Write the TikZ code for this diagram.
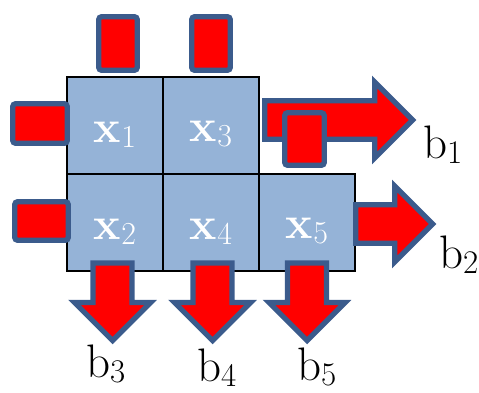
\documentclass[tikz,border=0pt]{standalone}
\definecolor{cellblue}{HTML}{95B3D7}
\definecolor{edgeblue}{HTML}{3B5B8C}
\newcommand{\lowidx}[2]{{\fontsize{#1}{#1}\selectfont\raisebox{-5pt}{#2}}}

\begin{document}
\begin{tikzpicture}[x=1pt,y=-1pt,
  cell/.style={draw=black,line width=1.3pt,fill=cellblue,minimum width=96pt,minimum height=97pt,inner sep=0pt},
  celltxt/.style={text=white,font=\fontsize{46}{52}\selectfont,inner sep=0pt,yshift=-9pt},
  redbox/.style={draw=edgeblue,line width=5.3pt,fill=red,rounded corners=3pt},
  bigarrow/.style={draw=edgeblue,line width=5.3pt,fill=red,line join=miter},
  blab/.style={font=\fontsize{47}{56}\selectfont,inner sep=0pt,anchor=base west}]
  \useasboundingbox (0,0) rectangle (479,393);
  % grid of unknowns
  \node[cell] (x1) at (115,125.5) {};
  \node[cell] (x3) at (211,125.5) {};
  \node[cell] (x2) at (115,222.5) {};
  \node[cell] (x4) at (211,222.5) {};
  \node[cell] (x5) at (307,222.5) {};
  \node[celltxt] (t1) at (x1) {\textbf{x}\lowidx{32}{1}};
  \node[celltxt] (t3) at (x3) {\textbf{x}\lowidx{32}{3}};
  \node[celltxt] (t2) at (x2) {\textbf{x}\lowidx{32}{2}};
  \node[celltxt] (t4) at (x4) {\textbf{x}\lowidx{32}{4}};
  \node[celltxt] (t5) at (x5) {\textbf{x}\lowidx{32}{5}};
  % outgoing arrows
  \draw[bigarrow] (264.7,100.7) -- (374.7,100.7) -- (374.7,82) -- (412.7,120) -- (374.7,158) -- (374.7,139.3) -- (264.7,139.3) -- cycle;
  \draw[bigarrow] (355.7,204.7) -- (394.7,204.7) -- (394.7,186) -- (432.7,224) -- (394.7,262) -- (394.7,243.3) -- (355.7,243.3) -- cycle;
  \draw[bigarrow] (93,263) -- (93,302.5) -- (74.5,302.5) -- (112.5,340.5) -- (150.5,302.5) -- (132,302.5) -- (132,263) -- cycle;
  \draw[bigarrow] (193,263) -- (193,302.5) -- (174.5,302.5) -- (212.5,340.5) -- (250.5,302.5) -- (232,302.5) -- (232,263) -- cycle;
  \draw[bigarrow] (287.5,263) -- (287.5,302.5) -- (269,302.5) -- (307,340.5) -- (345,302.5) -- (326.5,302.5) -- (326.5,263) -- cycle;
  % incoming blocks
  \draw[redbox] (98.7,16.7) rectangle (137.3,70.3);
  \draw[redbox] (191.7,16.7) rectangle (230.3,70.3);
  \draw[redbox] (12.7,103.7) rectangle (67.3,143.3);
  \draw[redbox] (14.7,201.7) rectangle (68.3,240.3);
  \draw[redbox] (284.7,112.7) rectangle (324.3,165.3);
  % labels
  \node[blab] (b1) at (423,158) {b\lowidx{33}{1}};
  \node[blab] (b2) at (439,268) {b\lowidx{33}{2}};
  \node[blab] (b3) at (86,377) {b\lowidx{33}{3}};
  \node[blab] (b4) at (197,381) {b\lowidx{33}{4}};
  \node[blab] (b5) at (297,380) {b\lowidx{33}{5}};
\end{tikzpicture}
\end{document}
